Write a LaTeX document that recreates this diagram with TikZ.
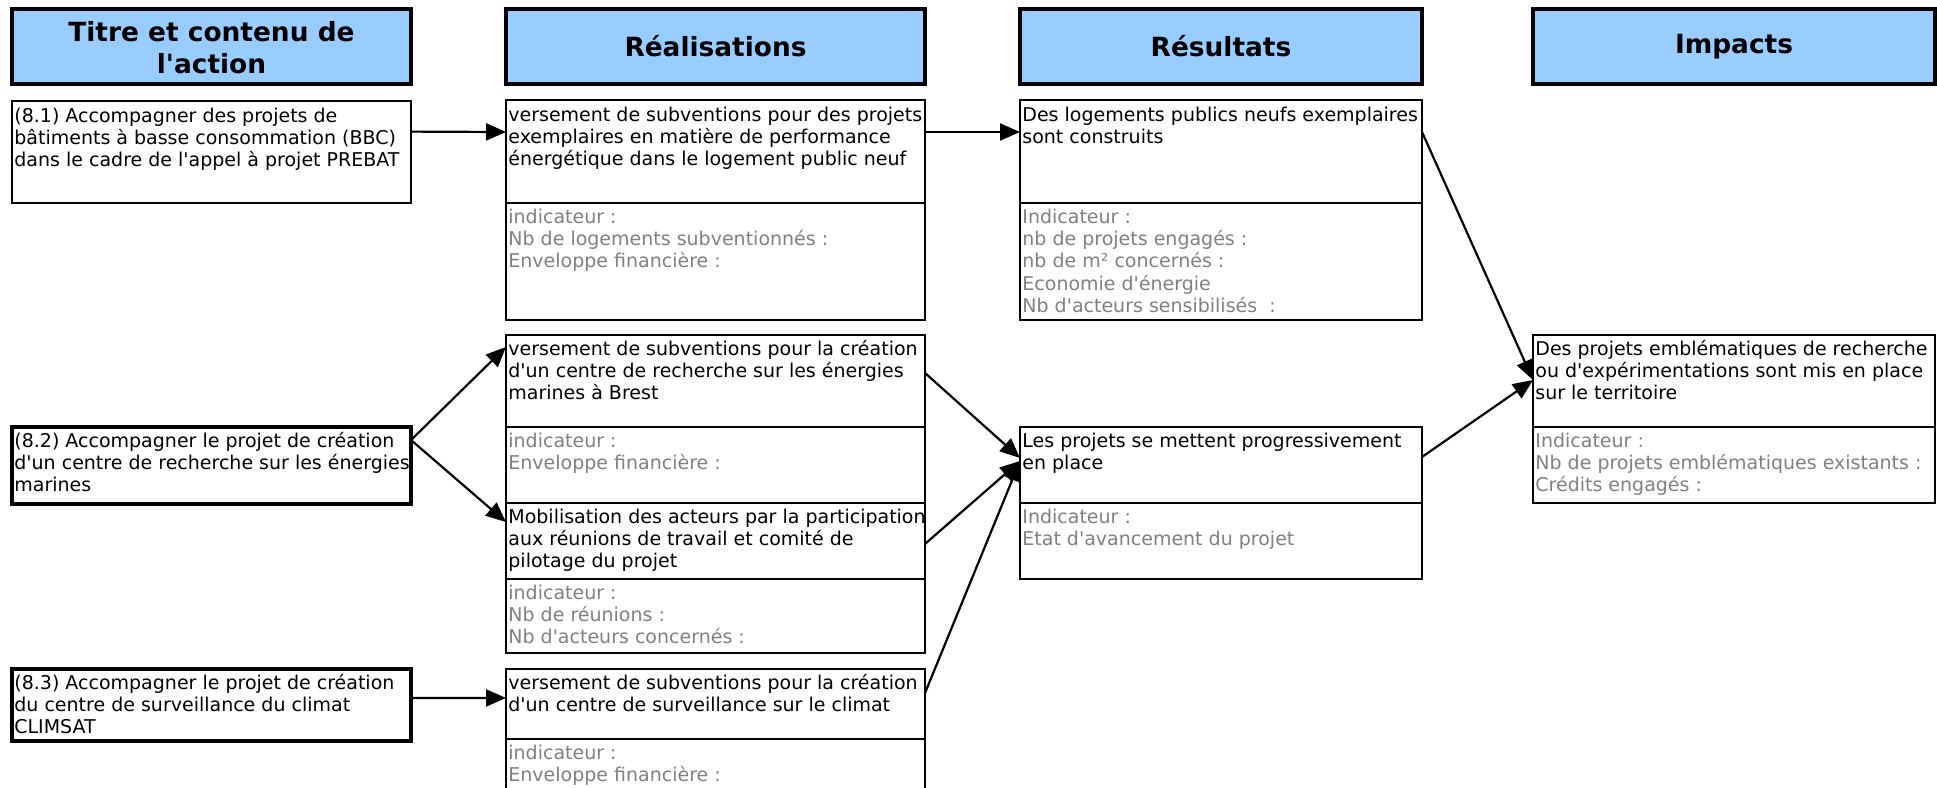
\documentclass[tikz,border=0pt]{standalone}
\usepackage{fontspec}
\setmainfont{DejaVu Sans}
\newfontfamily\dv{DejaVu Sans}
\usetikzlibrary{fit,calc,arrows.meta}
\definecolor{hdrblue}{HTML}{99CCFF}
\definecolor{indgray}{HTML}{808080}
\newcommand\mlines[1]{\begin{tabular}[t]{@{}l@{}}#1\end{tabular}}
\begin{document}
\begin{tikzpicture}[x=0.5pt,y=-0.5pt,
  hdr/.style={draw=black, line width=1.7pt, fill=hdrblue, inner sep=0pt, outer sep=0pt},
  box/.style={draw=black, line width=1.4pt, inner sep=0pt, outer sep=0pt},
  divline/.style={line width=1.1pt},
  txt/.style={anchor=base west, inner sep=0pt, font=\dv\fontsize{9.5}{11.2}\selectfont},
  gtxt/.style={txt, text=indgray},
  htxt/.style={align=center, inner sep=0pt, font=\dv\fontsize{13.2}{15.8}\selectfont\bfseries},
  arr/.style={line width=1.1pt, -{Triangle[length=10pt,width=8.5pt]}}
]
\useasboundingbox (0,0) rectangle (1937,787);
\clip (0,0) rectangle (1937,787);

% headers
\node[hdr, fit={(12,9) (411,84)}] (H1) {};
\node[hdr, fit={(506,9) (925,84)}] (H2) {};
\node[hdr, fit={(1020,9) (1422,84)}] (H3) {};
\node[hdr, fit={(1533,9) (1935,84)}] (H4) {};
\node[htxt] (tH1) at ($(H1.center)+(0,1)$) {Titre et contenu de\\l'action};
\node[htxt] (tH2) at (H2.center) {Réalisations};
\node[htxt] (tH3) at (H3.center) {Résultats};
\node[htxt] (tH4) at (H4.center) {Impacts};

% actions
\node[box, line width=1.1pt, fit={(12,101) (411,203)}] (A1) {};
\node[box, line width=1.6pt, fit={(12,427) (411,504)}] (A2) {};
\node[box, line width=1.6pt, fit={(12,669) (411,741)}] (A3) {};
\node[txt] (tA1) at ($(A1.north west)+(2,21)$) {\mlines{(8.1) Accompagner des projets de\\bâtiments à basse consommation (BBC)\\dans le cadre de l'appel à projet PREBAT}};
\node[txt] (tA2) at ($(A2.north west)+(2,20)$) {\mlines{(8.2) Accompagner le projet de création\\d'un centre de recherche sur les énergies\\marines}};
\node[txt] (tA3) at ($(A3.north west)+(2,20)$) {\mlines{(8.3) Accompagner le projet de création\\du centre de surveillance du climat\\CLIMSAT}};

% realisations
\node[box, fit={(506,100) (925,320)}] (R1) {};
\node[box, fit={(506,335) (925,503)}] (R2) {};
\node[box, fit={(506,503) (925,653)}] (R3) {};
\node[box, fit={(506,669) (925,800)}] (R4) {};
\coordinate (dR1) at (506,203);
\coordinate (dR2) at (506,427);
\coordinate (dR3) at (506,579);
\coordinate (dR4) at (506,739);
\foreach \d/\n in {dR1/R1,dR2/R2,dR3/R3,dR4/R4}
  \draw[divline] (\d) -- (\n.east |- \d);
\node[txt] (tR1) at ($(R1.north west)+(2,21)$) {\mlines{versement de subventions pour des projets\\exemplaires en matière de performance\\énergétique dans le logement public neuf}};
\node[gtxt] (gR1) at ($(dR1)+(2,20)$) {\mlines{indicateur :\\Nb de logements subventionnés :\\Enveloppe financière :}};
\node[txt] (tR2) at ($(R2.north west)+(2,20)$) {\mlines{versement de subventions pour la création\\d'un centre de recherche sur les énergies\\marines à Brest}};
\node[gtxt] (gR2) at ($(dR2)+(2,20)$) {\mlines{indicateur :\\Enveloppe financière :}};
\node[txt] (tR3) at ($(R3.north west)+(2,20)$) {\mlines{Mobilisation des acteurs par la participation\\aux réunions de travail et comité de\\pilotage du projet}};
\node[gtxt] (gR3) at ($(dR3)+(2,20)$) {\mlines{indicateur :\\Nb de réunions :\\Nb d'acteurs concernés :}};
\node[txt] (tR4) at ($(R4.north west)+(2,20)$) {\mlines{versement de subventions pour la création\\d'un centre de surveillance sur le climat}};
\node[gtxt] (gR4) at ($(dR4)+(2,20)$) {\mlines{indicateur :\\Enveloppe financière :}};

% resultats
\node[box, fit={(1020,100) (1422,320)}] (S1) {};
\node[box, fit={(1020,427) (1422,579)}] (S2) {};
\coordinate (dS1) at (1020,203);
\coordinate (dS2) at (1020,503);
\draw[divline] (dS1) -- (S1.east |- dS1);
\draw[divline] (dS2) -- (S2.east |- dS2);
\node[txt] (tS1) at ($(S1.north west)+(2,21)$) {\mlines{Des logements publics neufs exemplaires\\sont construits}};
\node[gtxt] (gS1) at ($(dS1)+(2,20)$) {\mlines{Indicateur :\\nb de projets engagés :\\nb de m² concernés :\\Economie d'énergie\\Nb d'acteurs sensibilisés\ \ :}};
\node[txt] (tS2) at ($(S2.north west)+(2,20)$) {\mlines{Les projets se mettent progressivement\\en place}};
\node[gtxt] (gS2) at ($(dS2)+(2,20)$) {\mlines{Indicateur :\\Etat d'avancement du projet}};

% impacts
\node[box, fit={(1533,335) (1935,503)}] (I1) {};
\coordinate (dI1) at (1533,427);
\draw[divline] (dI1) -- (I1.east |- dI1);
\node[txt] (tI1) at ($(I1.north west)+(2,20)$) {\mlines{Des projets emblématiques de recherche\\ou d'expérimentations sont mis en place\\sur le territoire}};
\node[gtxt] (gI1) at ($(dI1)+(2,20)$) {\mlines{Indicateur :\\Nb de projets emblématiques existants :\\Crédits engagés :}};

% arrows
\draw[arr] ($(A1.north east)!0.30!(A1.south east)$) -- ($(R1.north west)!0.1455!(R1.south west)$);
\draw[arr] ($(R1.north east)!0.1455!(R1.south east)$) -- ($(S1.north west)!0.1455!(S1.south west)$);
\draw[arr] ($(A2.north east)!0.169!(A2.south east)$) -- ($(R2.north west)!0.071!(R2.south west)$);
\draw[arr] ($(A2.north east)!0.169!(A2.south east)$) -- ($(R3.north west)!0.127!(R3.south west)$);
\draw[arr] ($(A3.north east)!0.403!(A3.south east)$) -- ($(R4.north west)!0.221!(R4.south west)$);
\draw[arr] ($(R2.north east)!0.226!(R2.south east)$) -- ($(S2.north west)!0.204!(S2.south west)$);
\draw[arr] ($(R3.north east)!0.273!(R3.south east)$) -- ($(S2.north west)!0.224!(S2.south west)$);
\draw[arr] ($(R4.north east)!0.183!(R4.south east)$) -- ($(S2.north west)!0.224!(S2.south west)$);
\draw[arr] ($(S1.north east)!0.1455!(S1.south east)$) -- ($(I1.north west)!0.268!(I1.south west)$);
\draw[arr] ($(S2.north east)!0.197!(S2.south east)$) -- ($(I1.north west)!0.268!(I1.south west)$);
\end{tikzpicture}
\end{document}
